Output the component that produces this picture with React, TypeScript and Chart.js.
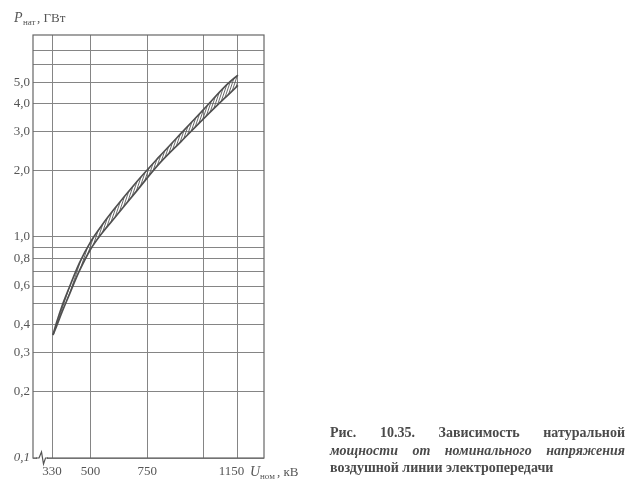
import React, { useEffect, useRef } from "react";
import { Chart, registerables } from "chart.js";

Chart.register(...registerables);

// Nominal voltage, kV (both band edges read at the same voltages)
const voltageKV = [334, 350, 375, 400, 450, 500, 550, 600, 700, 800, 900, 1000, 1100, 1150];
// Upper edge of the natural-power band, GW
const upperP = [0.36, 0.41, 0.49, 0.57, 0.76, 0.95, 1.13, 1.32, 1.76, 2.29, 2.95, 3.79, 4.88, 5.4];
// Lower edge of the natural-power band, GW
const lowerP = [0.36, 0.395, 0.46, 0.53, 0.7, 0.88, 1.04, 1.2, 1.6, 2.13, 2.71, 3.44, 4.33, 4.85];

const yGridValues = [0.1, 0.2, 0.3, 0.4, 0.5, 0.6, 0.7, 0.8, 0.9, 1, 2, 3, 4, 5, 6, 7];
const yTickLabels: Record<string, string> = {
  "0.1": "0,1",
  "0.2": "0,2",
  "0.3": "0,3",
  "0.4": "0,4",
  "0.6": "0,6",
  "0.8": "0,8",
  "1": "1,0",
  "2": "2,0",
  "3": "3,0",
  "4": "4,0",
  "5": "5,0",
};
const xGridValues = [330, 500, 750, 1000, 1150];
const xTickLabels: Record<string, string> = {
  "330": "330",
  "500": "500",
  "750": "750",
  "1150": "1150\u2002\u2002",
};

const SERIF = "'Liberation Serif', 'DejaVu Serif', serif";
const GRID = "#858585";
const INK = "#505050";

function makeHatch(): CanvasPattern | string {
  const c = document.createElement("canvas");
  c.width = 5;
  c.height = 15;
  const g = c.getContext("2d");
  if (!g) return "rgba(0,0,0,0.3)";
  g.strokeStyle = "#5a5a5a";
  g.lineWidth = 0.9;
  g.beginPath();
  for (const off of [-5, -2.5, 0, 2.5, 5]) {
    g.moveTo(off - 1, 18);
    g.lineTo(off + 6, -3);
  }
  g.stroke();
  const p = g.createPattern(c, "repeat");
  return p || "rgba(0,0,0,0.3)";
}

const decorPlugin = {
  id: "decor",
  afterDraw(chart: any) {
    const ctx = chart.ctx as CanvasRenderingContext2D;
    const a = chart.chartArea;
    ctx.save();
    // frame
    ctx.strokeStyle = "#666";
    ctx.lineWidth = 1.2;
    ctx.strokeRect(a.left, a.top, a.right - a.left, a.bottom - a.top);
    // axis break
    ctx.fillStyle = "#fff";
    ctx.fillRect(37, a.bottom - 2, 10, 4);
    ctx.strokeStyle = "#555";
    ctx.lineWidth = 1.2;
    ctx.beginPath();
    ctx.moveTo(36, a.bottom);
    ctx.lineTo(39, a.bottom);
    ctx.lineTo(41.5, a.bottom - 6);
    ctx.lineTo(43.5, a.bottom + 6);
    ctx.lineTo(45.5, a.bottom);
    ctx.lineTo(48, a.bottom);
    ctx.stroke();

    ctx.fillStyle = "#555";
    ctx.textBaseline = "alphabetic";
    // y-axis title
    ctx.font = `italic 14px ${SERIF}`;
    ctx.fillText("P", 14, 22);
    ctx.font = `9px ${SERIF}`;
    ctx.fillText("нат", 23, 25);
    ctx.font = `13px ${SERIF}`;
    ctx.fillText(", ГВт", 37, 22);
    // x-axis title
    ctx.font = `italic 14px ${SERIF}`;
    ctx.fillText("U", 250, 476);
    ctx.font = `9px ${SERIF}`;
    ctx.fillText("ном", 260, 479);
    ctx.font = `13px ${SERIF}`;
    ctx.fillText(", кВ", 277, 476);
    ctx.restore();
  },
};

export default function App() {
  const ref = useRef<HTMLCanvasElement | null>(null);

  useEffect(() => {
    if (!ref.current) return;
    const hatch = makeHatch();
    const chart = new Chart(ref.current, {
      type: "line",
      data: {
        labels: voltageKV,
        datasets: [
          {
            label: "upper",
            data: voltageKV.map((u, i) => ({ x: u, y: upperP[i] })),
            borderColor: INK,
            borderWidth: 1.7,
            pointRadius: 0,
            cubicInterpolationMode: "monotone",
            fill: false,
          },
          {
            label: "lower",
            data: voltageKV.map((u, i) => ({ x: u, y: lowerP[i] })),
            borderColor: INK,
            borderWidth: 1.7,
            pointRadius: 0,
            cubicInterpolationMode: "monotone",
            fill: "-1",
            backgroundColor: hatch as any,
          },
        ],
      },
      options: {
        animation: false,
        responsive: false,
        devicePixelRatio: 1,
        layout: { padding: { top: 35, right: 376, left: 0, bottom: 0 } },
        plugins: {
          legend: { display: false },
          tooltip: { enabled: false },
          filler: { propagate: false },
        },
        scales: {
          x: {
            type: "linear",
            min: 246,
            max: 1265,
            afterBuildTicks: (scale: any) => {
              scale.ticks = xGridValues.map((v) => ({ value: v }));
            },
            afterFit: (scale: any) => {
              scale.height = 39;
            },
            grid: { color: GRID, lineWidth: 1, drawTicks: false },
            border: { display: false },
            ticks: {
              autoSkip: false,
              maxRotation: 0,
              padding: 6,
              color: "#555",
              font: { family: SERIF, size: 13 },
              callback: (v: any) => xTickLabels[String(v)] ?? "",
            },
          },
          y: {
            type: "logarithmic",
            min: 0.1,
            max: 8.2,
            afterBuildTicks: (scale: any) => {
              scale.ticks = yGridValues.map((v) => ({ value: v }));
            },
            afterFit: (scale: any) => {
              scale.width = 33;
            },
            grid: { color: GRID, lineWidth: 1, drawTicks: false },
            border: { display: false },
            ticks: {
              autoSkip: false,
              padding: 3,
              color: "#555",
              font: (c: any) => ({
                family: SERIF,
                size: 13,
                style: c.tick && c.tick.value === 0.1 ? "italic" : "normal",
              }),
              callback: (v: any) => yTickLabels[String(v)] ?? "",
            },
          },
        },
      } as any,
      plugins: [decorPlugin],
    });
    return () => chart.destroy();
  }, []);

  return (
    <div style={{ position: "fixed", left: 0, top: 0, width: 640, height: 497, background: "#fff" }}>
      <canvas ref={ref} width={640} height={497} style={{ width: 640, height: 497, display: "block" }} />
      <div
        style={{
          position: "absolute",
          left: 330,
          top: 424,
          width: 295,
          fontFamily: SERIF,
          fontWeight: "bold",
          fontSize: 14,
          lineHeight: "17.5px",
          color: "#4a4a4a",
          textAlign: "justify",
          whiteSpace: "nowrap",
        }}
      >
        <div style={{ textAlignLast: "justify", whiteSpace: "normal" }}>Рис. 10.35. Зависимость натуральной</div>
        <div style={{ fontStyle: "italic", textAlignLast: "justify", whiteSpace: "normal" }}>
          мощности от номинального напряжения
        </div>
        <div style={{ textAlignLast: "left" }}>воздушной линии электропередачи</div>
      </div>
    </div>
  );
}
